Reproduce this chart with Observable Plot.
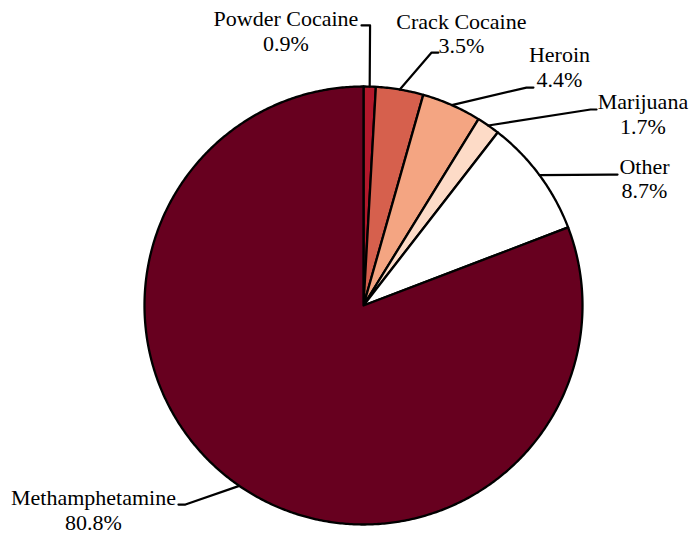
<!DOCTYPE html>
<html>
<head>
<meta charset="utf-8">
<script src="https://cdn.jsdelivr.net/npm/d3@7"></script>
<script src="https://cdn.jsdelivr.net/npm/@observablehq/plot@0.6"></script>
<style>
  html, body { margin: 0; padding: 0; background: #fff; }
  #chart svg { overflow: visible; }
  #chart svg text, #chart svg tspan { font-family: "Liberation Serif", "Times New Roman", "DejaVu Serif", serif !important; }
</style>
</head>
<body>
<div id="chart"></div>
<script>
// ---- data ----
const categories = ["Powder Cocaine", "Crack Cocaine", "Heroin", "Marijuana", "Other", "Methamphetamine"];
const shares = [0.9, 3.5, 4.4, 1.7, 8.7, 80.8];
const sliceColors = ["#b2182b", "#d6604d", "#f4a582", "#fddbc7", "#ffffff", "#67001f"];

// ---- label layout (unit-circle coordinates, radius = 1) ----
const labelX = [-0.354, 0.447, 0.895, 1.276, 1.283, -1.233];
const labelY = [1.164, 1.151, 1.0, 0.785, 0.489, -1.023];
const elbowX = [0.030, 0.311, 0.744, 1.037, 1.123, -0.813];
const elbowY = [1.279, 1.155, 0.995, 0.895, 0.598, -0.909];
const endX = [-0.009, 0.342, 0.776, 1.064, 1.160, -0.845];
const endY = [1.279, 1.155, 0.995, 0.895, 0.598, -0.909];

// ---- build slices ----
const total = d3.sum(shares);
let acc = 0;
const slices = [];
const leaders = [];
const labels = [];
categories.forEach((c, i) => {
  const a0 = acc / total * 2 * Math.PI;
  acc += shares[i];
  const a1 = acc / total * 2 * Math.PI;
  const ring = [[0, 0]];
  const n = Math.max(2, Math.ceil((a1 - a0) / (Math.PI / 360)));
  for (let k = 0; k <= n; k++) {
    const a = a0 + (a1 - a0) * k / n;
    ring.push([Math.sin(a), Math.cos(a)]);
  }
  ring.push([0, 0]);
  slices.push({type: "Feature", properties: {category: c}, geometry: {type: "Polygon", coordinates: [ring]}});
  const am = (a0 + a1) / 2;
  leaders.push({category: c, x: Math.sin(am), y: Math.cos(am)});
  leaders.push({category: c, x: elbowX[i], y: elbowY[i]});
  leaders.push({category: c, x: endX[i], y: endY[i]});
  labels.push({category: c, x: labelX[i], y: labelY[i], text: `${c}\n${shares[i].toFixed(1)}%`});
});

const R = 219;
const plot = Plot.plot({
  width: 690,
  height: 536,
  marginLeft: 144,
  marginRight: 690 - 144 - 2 * R,
  marginTop: 86,
  marginBottom: 536 - 86 - 2 * R,
  projection: {
    type: "reflect-y",
    domain: {type: "Polygon", coordinates: [[[-1, -1], [1, -1], [1, 1], [-1, 1], [-1, -1]]]},
    clip: false
  },
  color: {domain: categories, range: sliceColors},
  style: {background: "#fff", overflow: "visible", fontFamily: "Liberation Serif"},
  marks: [
    Plot.geo(slices, {fill: d => d.properties.category, stroke: "black", strokeWidth: 2.3, strokeLinejoin: "round"}),
    Plot.line(leaders, {x: "x", y: "y", z: "category", stroke: "black", strokeWidth: 2.2, curve: "linear"}),
    Plot.text(labels, {
      x: "x", y: "y", text: "text",
      fontSize: 22, fontFamily: "Liberation Serif",
      lineAnchor: "bottom", lineHeight: 1.11, textAnchor: "middle", fill: "black"
    })
  ]
});
document.getElementById("chart").appendChild(plot);
</script>
</body>
</html>
